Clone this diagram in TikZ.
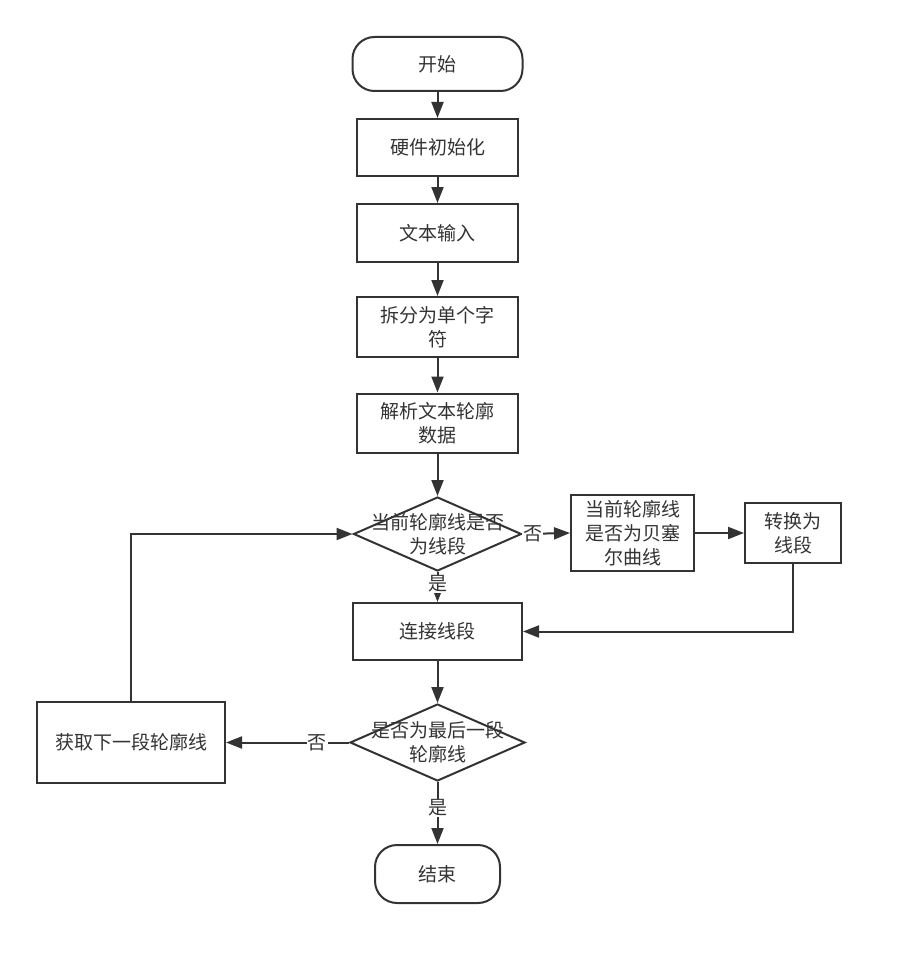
\documentclass[tikz,border=0pt]{standalone}
\usepackage{fontspec}
\setmainfont{Noto Sans CJK SC}
\usetikzlibrary{shapes.geometric,arrows.meta}
\definecolor{ln}{HTML}{333333}
\begin{document}
\begin{tikzpicture}[x=1pt,y=-1pt,
  every node/.style={font=\fontsize{19}{24}\selectfont, text=ln},
  box/.style={draw=ln, line width=2pt, rectangle, inner sep=0pt, align=center},
  term/.style={draw=ln, line width=2pt, rectangle, rounded corners=22pt, inner sep=0pt},
  dia/.style={draw=ln, line width=2pt, diamond, inner sep=0pt},
  lab/.style={inner sep=1pt, align=center},
  arr/.style={draw=ln, line width=2pt, -{Triangle[length=16pt,width=12pt]}},
  yn/.style={fill=white, inner sep=1pt}]
\useasboundingbox (0,0) rectangle (913,955);
\node[term, minimum width=170pt, minimum height=54pt] (start) at (437.5,64) {开始};
\node[box, minimum width=161pt, minimum height=57pt] (b1) at (437.5,147.5) {硬件初始化};
\node[box, minimum width=161pt, minimum height=58pt] (b2) at (437.5,233) {文本输入};
\node[box, minimum width=161pt, minimum height=60pt] (b3) at (437.5,327) {拆分为单个字\\符};
\node[box, minimum width=161pt, minimum height=59pt] (b4) at (437.5,423) {解析文本轮廓\\数据};
\node[dia, minimum width=168pt, minimum height=74pt] (d1) at (437.5,534) {};
\node[lab] (d1t) at (437.5,534) {当前轮廓线是否\\为线段};
\node[box, minimum width=123pt, minimum height=76pt] (r1) at (632.5,533) {当前轮廓线\\是否为贝塞\\尔曲线};
\node[box, minimum width=96pt, minimum height=60pt] (r2) at (793,533) {转换为\\线段};
\node[box, minimum width=169pt, minimum height=57pt] (c) at (437.5,631.5) {连接线段};
\node[dia, minimum width=175pt, minimum height=77pt] (d2) at (437.5,742.5) {};
\node[lab] (d2t) at (437.5,742.5) {是否为最后一段\\轮廓线};
\node[box, minimum width=188pt, minimum height=81pt] (g) at (131,742.5) {获取下一段轮廓线};
\node[term, minimum width=125pt, minimum height=58pt] (end) at (437.5,874) {结束};
\coordinate (cr) at (r2.south |- c.east);
\coordinate (gl) at (g.north |- d1.west);

\draw[arr] (start) -- (b1);
\draw[arr] (b1) -- (b2);
\draw[arr] (b2) -- (b3);
\draw[arr] (b3) -- (b4);
\draw[arr] (b4) -- (d1);
\draw[arr] (d1.east) -- node[yn, pos=0.22] (n1) {否} (r1.west);
\draw[arr] (r1) -- (r2);
\draw[arr] (r2.south) -- (cr) -- (c.east);
\draw[arr] (d1.south) -- node[yn, pos=0.4] (y1) {是} (c.north);
\draw[arr] (c) -- (d2);
\draw[arr] (d2.west) -- node[yn, pos=0.26] (n2) {否} (g.east);
\draw[arr] (g.north) -- (gl) -- (d1.west);
\draw[arr] (d2.south) -- node[yn, pos=0.42] (y2) {是} (end.north);
\end{tikzpicture}
\end{document}
